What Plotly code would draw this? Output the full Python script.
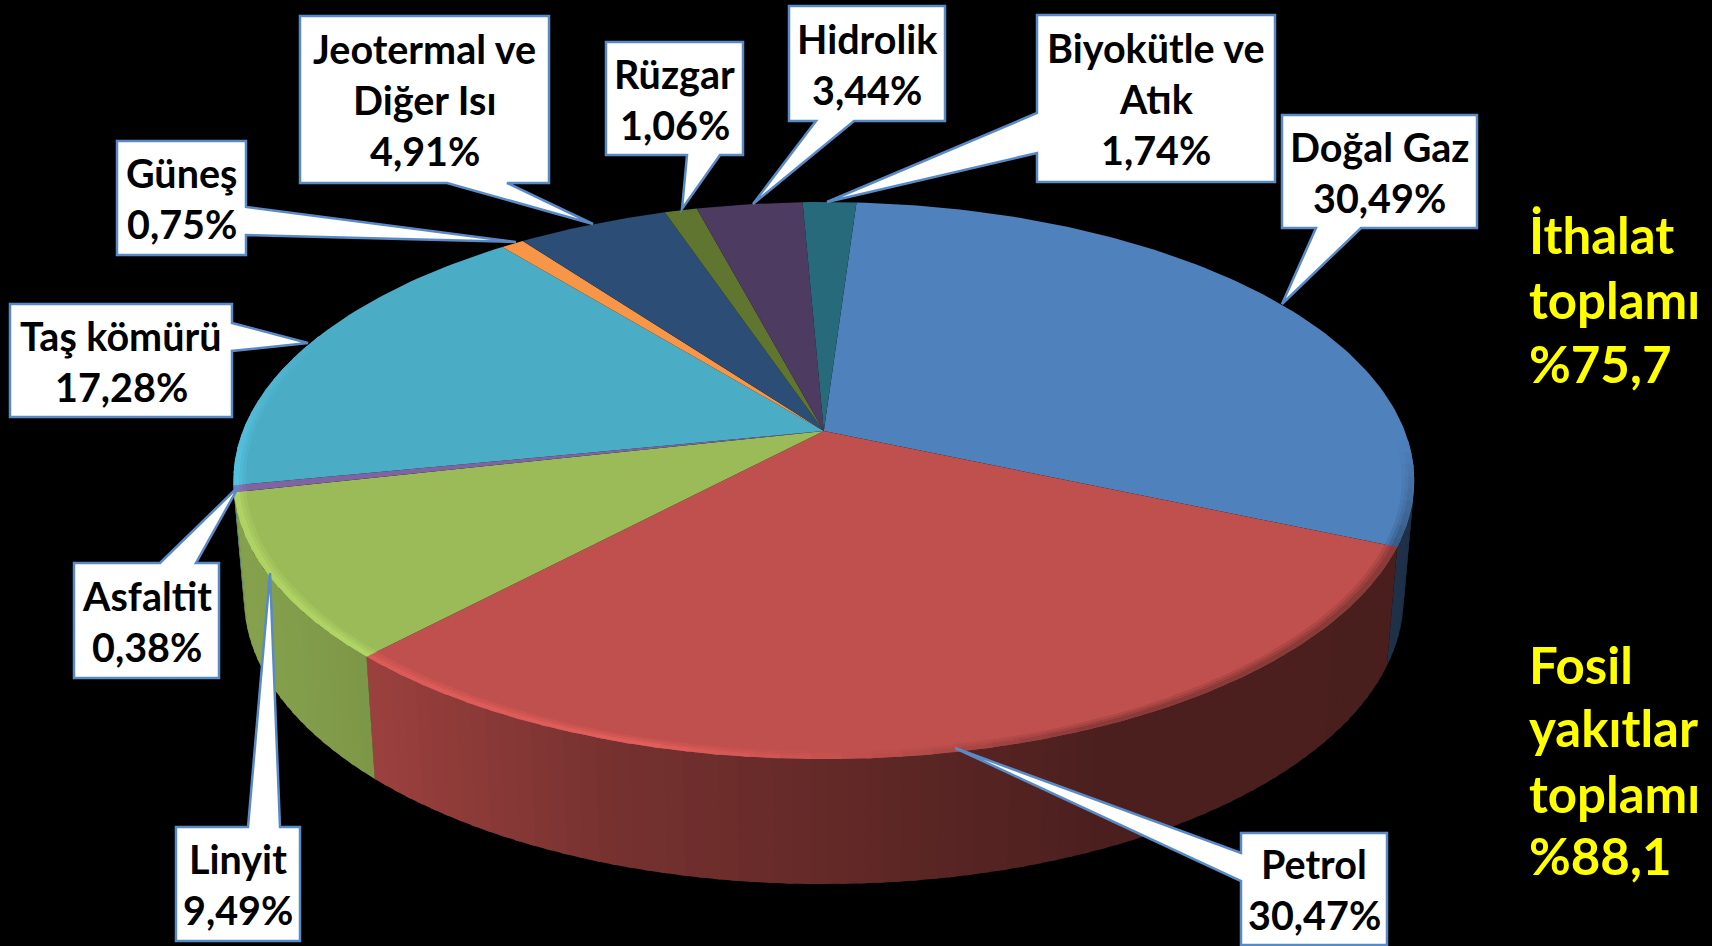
import math
import plotly.graph_objects as go

# ---- data ----
categories = ["Doğal Gaz", "Petrol", "Linyit", "Asfaltit", "Taş kömürü", "Güneş",
              "Jeotermal ve Diğer Isı", "Rüzgar", "Hidrolik", "Biyokütle ve Atık"]
values = [30.49, 30.47, 9.49, 0.38, 17.28, 0.75, 4.91, 1.06, 3.44, 1.74]
label_lines = [["Doğal Gaz"], ["Petrol"], ["Linyit"], ["Asfaltit"], ["Taş kömürü"], ["Güneş"],
               ["Jeotermal ve", "Diğer Isı"], ["Rüzgar"], ["Hidrolik"], ["Biyokütle ve", "Atık"]]
side_notes = [["İthalat", "toplamı", "%75,7"], ["Fosil", "yakıtlar", "toplamı", "%88,1"]]

# ---- styling ----
colors = ["#4F81BD", "#C0504D", "#9BBB59", "#8064A2", "#4BACC6", "#F79646",
          "#2C4D75", "#5F7530", "#4D3B62", "#276A7C"]
START = 3.8
CX, CY, R, S, P = 823.8, 431.0, 581.0, 269.7, 0.178
K = 0.982
BORDER = "#5A8AC6"
FONT = "Lato"
LABEL_SIZE = 39.5
NOTE_SIZE = 51

# box (x0,y0,x1,y1), pointer side, base a, base b, tip (x,y)
callouts = [
    ((1282, 115, 1477, 228), "bottom", 1316, 1361, (1282, 304)),
    ((1241, 833, 1387, 945), "left", 853, 881, (955, 748)),
    ((176, 827, 300, 941), "top", 248, 280, (270, 573)),
    ((74, 563, 219, 678), "top", 160, 196, (239, 486)),
    ((10, 304, 232, 417), "right", 323, 351, (308, 343)),
    ((117, 141, 246, 255), "right", 207, 235, (516, 242)),
    ((300, 16, 549, 183), "bottom", 447, 507, (593, 224)),
    ((606, 42, 743, 155), "bottom", 687, 720, (682, 209)),
    ((789, 6, 945, 121), "bottom", 816, 854, (753, 204)),
    ((1037, 15, 1275, 182), "left", 113, 153, (827, 202)),
]
note_pos = [(1527, [234, 299, 363]), (1527, [664, 727, 793, 855])]


def project(theta, r=1.0):
    t = math.radians(theta)
    u, v = r * math.sin(t), r * math.cos(t)
    d = 1 + P * v
    return CX + R * u / d, CY - S * v / d


def lower(theta):
    x, y = project(theta)
    return CX + (x - CX) * K, y + 119 + (y - 547) * 6 / 212


def scale(hex_color, f):
    c = [int(hex_color[i:i + 2], 16) for i in (1, 3, 5)]
    return "rgb(%d,%d,%d)" % tuple(min(255, round(a * f)) for a in c)


def interp(x, pts):
    if x <= pts[0][0]:
        return pts[0][1]
    for (a, fa), (b, fb) in zip(pts, pts[1:]):
        if x <= b:
            return fa + (fb - fa) * (x - a) / (b - a)
    return pts[-1][1]


WALL = [(250, .86), (378, .80), (600, .62), (860, .50), (1100, .39), (1420, .38)]
RIM = [(230, 1.12), (650, 1.17), (860, 1.0), (1100, .72), (1420, .72)]
RIM_FADE = [(92, 0.0), (112, 1.0), (262, 1.0), (292, 0.0)]
BANDS = [(0.990, 1.0, 1.0), (0.985, 0.990, 0.66), (0.980, 0.985, 0.33)]


def poly(xs, ys, color):
    return go.Scatter(x=xs, y=ys, mode="lines", fill="toself", fillcolor=color,
                      line=dict(color=color, width=0), hoverinfo="skip", showlegend=False)


total = sum(values)
edges = [START]
for v in values:
    edges.append(edges[-1] + v / total * 360)

fig = go.Figure()

# side wall, near half only (silhouette tangents at about 100 and 260 degrees)
for i, col in enumerate(colors):
    a0, a1 = max(edges[i], 100), min(edges[i + 1], 259.7)
    a = a0
    while a < a1:
        b = min(a + 1.5, a1)
        over = min(b + 0.6, a1)
        p0, p1, q1, q0 = project(a), project(over), lower(over), lower(a)
        f = interp((p0[0] + p1[0]) / 2, WALL)
        fig.add_trace(poly([p0[0], p1[0], q1[0], q0[0]], [p0[1], p1[1], q1[1], q0[1]], scale(col, f)))
        a = b

# top face
for i, col in enumerate(colors):
    n = max(2, int((edges[i + 1] - edges[i]) / 1.0))
    angs = [edges[i] + (edges[i + 1] - edges[i]) * j / n for j in range(n + 1)]
    pts = [project(a) for a in angs]
    fig.add_trace(poly([CX] + [p[0] for p in pts] + [CX], [CY] + [p[1] for p in pts] + [CY], col))

# soft bevel along the near rim
for i, col in enumerate(colors):
    a0, a1 = max(edges[i], 92), min(edges[i + 1], 292)
    a = a0
    while a < a1:
        b = min(a + 2.5, a1)
        over = min(b + 0.5, a1)
        fade = interp((a + b) / 2, RIM_FADE)
        f = 1 + (interp((project(a)[0] + project(b)[0]) / 2, RIM) - 1) * fade
        for r_in, r_out, w in BANDS:
            p0, p1 = project(a, r_out), project(over, r_out)
            i0, i1 = project(a, r_in), project(over, r_in)
            fig.add_trace(poly([p0[0], p1[0], i1[0], i0[0]], [p0[1], p1[1], i1[1], i0[1]],
                               scale(col, 1 + (f - 1) * w)))
        a = b


def callout_path(box, side, a, b, tip):
    x0, y0, x1, y1 = box
    tx, ty = tip
    if side == "top":
        pts = [(x0, y0), (a, y0), (tx, ty), (b, y0), (x1, y0), (x1, y1), (x0, y1)]
    elif side == "bottom":
        pts = [(x0, y0), (x1, y0), (x1, y1), (b, y1), (tx, ty), (a, y1), (x0, y1)]
    elif side == "left":
        pts = [(x0, y0), (x1, y0), (x1, y1), (x0, y1), (x0, b), (tx, ty), (x0, a)]
    else:
        pts = [(x0, y0), (x1, y0), (x1, a), (tx, ty), (x1, b), (x1, y1), (x0, y1)]
    return "M" + " L".join(f"{x},{y}" for x, y in pts) + " Z"


shapes, annotations = [], []
for lines, val, (box, side, a, b, tip) in zip(label_lines, values, callouts):
    shapes.append(dict(type="path", path=callout_path(box, side, a, b, tip), xref="x", yref="y",
                       fillcolor="white", line=dict(color=BORDER, width=2.5), layer="above"))
    rows = lines + [f"{val:.2f}%".replace(".", ",")]
    mid = (box[1] + box[3]) / 2
    for j, row in enumerate(rows):
        annotations.append(dict(x=(box[0] + box[2]) / 2, y=mid + (j - (len(rows) - 1) / 2) * 51, xref="x", yref="y",
                                text=f"<b>{row}</b>", showarrow=False, xanchor="center", yanchor="middle",
                                font=dict(family=FONT, size=LABEL_SIZE, color="black")))

for rows, (nx, ys) in zip(side_notes, note_pos):
    for row, ny in zip(rows, ys):
        annotations.append(dict(x=nx, y=ny, xref="x", yref="y", text=f"<b>{row}</b>", showarrow=False,
                                xanchor="left", yanchor="middle",
                                font=dict(family=FONT, size=NOTE_SIZE, color="#FFFF00")))

fig.update_layout(
    width=1712, height=946, margin=dict(l=0, r=0, t=0, b=0),
    paper_bgcolor="black", plot_bgcolor="black", showlegend=False,
    xaxis=dict(range=[0, 1712], visible=False, fixedrange=True),
    yaxis=dict(range=[946, 0], visible=False, fixedrange=True),
    shapes=shapes, annotations=annotations,
)
fig.write_html("out.html", config=dict(displayModeBar=False),
               post_script="document.body.style.margin='0';document.body.style.background='black';")
